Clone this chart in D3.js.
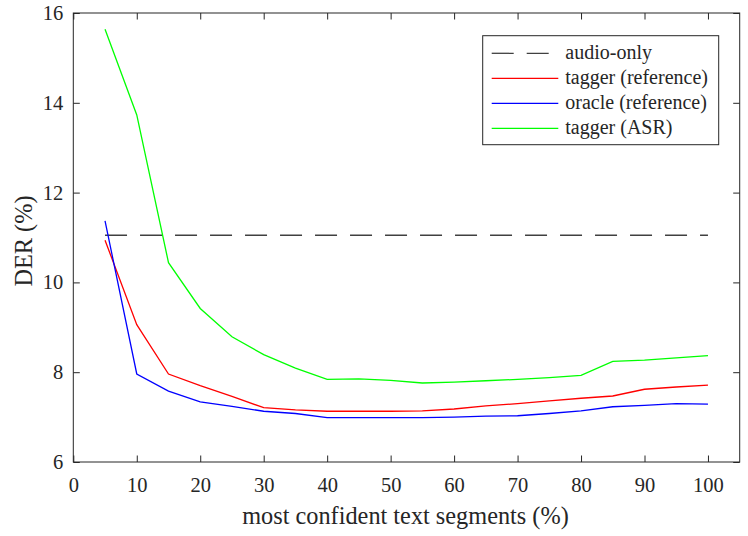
<!DOCTYPE html>
<html>
<head>
<meta charset="utf-8">
<script src="https://cdn.jsdelivr.net/npm/d3@7"></script>
<style>
  body { margin: 0; background: #fff; }
  svg, svg text { font-family: 'Liberation Serif' !important; }
</style>
</head>
<body>
<div id="chart"></div>
<script>
const segments = [5, 10, 15, 20, 25, 30, 35, 40, 45, 50, 55, 60, 65, 70, 75, 80, 85, 90, 95, 100];
const audioOnly = 11.05;
const taggerRef = [10.94, 9.06, 7.96, 7.70, 7.46, 7.21, 7.16, 7.13, 7.13, 7.13, 7.14, 7.18, 7.25, 7.30, 7.36, 7.42, 7.47, 7.62, 7.67, 7.71];
const oracleRef = [11.37, 7.96, 7.58, 7.34, 7.24, 7.13, 7.08, 6.99, 6.99, 6.99, 6.99, 7.00, 7.02, 7.03, 7.08, 7.14, 7.23, 7.26, 7.30, 7.29];
const taggerAsr = [15.64, 13.73, 10.44, 9.42, 8.79, 8.39, 8.09, 7.84, 7.85, 7.82, 7.76, 7.78, 7.81, 7.84, 7.88, 7.93, 8.24, 8.27, 8.32, 8.37];
const xTicks = [0, 10, 20, 30, 40, 50, 60, 70, 80, 90, 100];
const yTicks = [6, 8, 10, 12, 14, 16];
const legendLabels = ['audio-only', 'tagger (reference)', 'oracle (reference)', 'tagger (ASR)'];

const width = 748;
const height = 536;
const margin = { top: 13, right: 8, bottom: 74, left: 73.3 };
const font = "'Liberation Serif'";

const svg = d3.select('#chart')
  .append('svg')
  .attr('width', width)
  .attr('height', height)
  .style('font-family', font);

const x = d3.scaleLinear()
  .domain([0, 105])
  .range([margin.left, width - margin.right - 0.3]);

const y = d3.scaleLinear()
  .domain([6, 16])
  .range([height - margin.bottom, margin.top]);

const axisColor = '#262626';
const tick = 6.5;

// bottom / left axes, ticks pointing inward
const gx = svg.append('g')
  .attr('transform', `translate(0,${y(6)})`)
  .call(d3.axisBottom(x).tickValues(xTicks).tickSize(-tick).tickPadding(15));
const gy = svg.append('g')
  .attr('transform', `translate(${x(0)},0)`)
  .call(d3.axisLeft(y).tickValues(yTicks).tickSize(-tick).tickPadding(10));

// mirrored ticks on top / right
const gxt = svg.append('g')
  .attr('transform', `translate(0,${y(16)})`)
  .call(d3.axisTop(x).tickValues(xTicks).tickSize(-tick).tickFormat(''));
const gyr = svg.append('g')
  .attr('transform', `translate(${x(105)},0)`)
  .call(d3.axisRight(y).tickValues(yTicks).tickSize(-tick).tickFormat(''));

[gx, gy, gxt, gyr].forEach(g => {
  g.select('.domain').remove();
  g.attr('font-family', font).attr('font-size', 20.5);
  g.selectAll('line').attr('stroke', axisColor).attr('stroke-width', 1);
  g.selectAll('text')
    .attr('fill', axisColor)
    .style('font-family', font)
    .style('font-size', '20.5px');
});

// box
svg.append('rect')
  .attr('x', x(0))
  .attr('y', y(16))
  .attr('width', x(105) - x(0))
  .attr('height', y(6) - y(16))
  .attr('fill', 'none')
  .attr('stroke', axisColor)
  .attr('stroke-width', 1);

// axis labels
svg.append('text')
  .attr('x', 405.5)
  .attr('y', 524)
  .attr('text-anchor', 'middle')
  .style('font-family', font)
  .style('font-size', '24.3px')
  .attr('fill', axisColor)
  .text('most confident text segments (%)');

svg.append('text')
  .attr('transform', 'translate(32,241) rotate(-90)')
  .attr('text-anchor', 'middle')
  .style('font-family', font)
  .style('font-size', '24.3px')
  .attr('fill', axisColor)
  .text('DER (%)');

// series
const line = d3.line()
  .x((d, i) => x(segments[i]))
  .y(d => y(d));

svg.append('line')
  .attr('x1', x(segments[0]))
  .attr('x2', x(segments[segments.length - 1]))
  .attr('y1', y(audioOnly))
  .attr('y2', y(audioOnly))
  .attr('stroke', '#404040')
  .attr('stroke-width', 1.3)
  .attr('stroke-dasharray', '22,13');

const series = [
  { values: taggerRef, color: '#ff0000' },
  { values: oracleRef, color: '#0000ff' },
  { values: taggerAsr, color: '#00ff00' },
];

series.forEach(s => {
  svg.append('path')
    .datum(s.values)
    .attr('d', line)
    .attr('fill', 'none')
    .attr('stroke', s.color)
    .attr('stroke-width', 1.3);
});

// legend
const legend = svg.append('g').attr('transform', 'translate(482.7,35.7)');
legend.append('rect')
  .attr('width', 236)
  .attr('height', 109)
  .attr('fill', '#fff')
  .attr('stroke', axisColor)
  .attr('stroke-width', 1);

const legendColors = ['#404040', '#ff0000', '#0000ff', '#00ff00'];
legendLabels.forEach((label, i) => {
  const ly = 17.6 + i * 25;
  legend.append('line')
    .attr('x1', 9)
    .attr('x2', i === 0 ? 66 : 75.6)
    .attr('y1', ly)
    .attr('y2', ly)
    .attr('stroke', legendColors[i])
    .attr('stroke-width', 1.3)
    .attr('stroke-dasharray', i === 0 ? '22,13' : null);
  legend.append('text')
    .attr('x', 82.6)
    .attr('y', ly + 6)
    .style('font-family', font)
    .style('font-size', '20px')
    .attr('fill', axisColor)
    .text(label);
});
</script>
</body>
</html>
